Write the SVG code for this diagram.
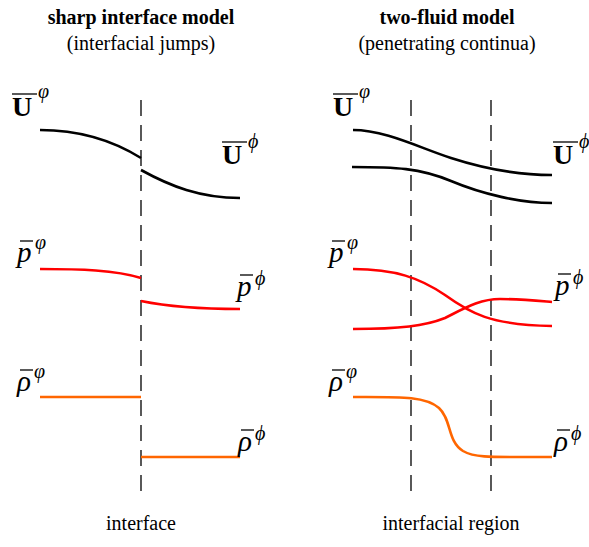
<svg xmlns="http://www.w3.org/2000/svg" width="589" height="547" viewBox="0 0 589 547">
<style>
text{font-family:"Liberation Serif","Times New Roman",serif;fill:#000}
.title{font-size:20px;font-weight:bold;text-anchor:middle}
.sub{font-size:20px;text-anchor:middle}
.cap{font-size:20px;text-anchor:middle}
.U{font-size:28px;font-weight:bold}
.it{font-size:29px;font-style:italic}
.sup{font-size:20px;font-style:italic}
.ov{stroke:#000;stroke-width:1.3}
.dash{stroke:#000;stroke-width:1.3;stroke-dasharray:16 9;fill:none}
.blk{stroke:#000;stroke-width:2.6;fill:none}
.red{stroke:#ff0000;stroke-width:2.6;fill:none}
.org{stroke:#ff6600;stroke-width:2.6;fill:none}
</style>
<g id="titles">
<text class="title" x="141" y="24">sharp interface model</text>
<text class="sub" x="141" y="50">(interfacial jumps)</text>
<text class="title" x="447" y="24">two-fluid model</text>
<text class="sub" x="447" y="50">(penetrating continua)</text>
</g>
<g id="connectors">
<line class="dash" x1="141" y1="100" x2="141" y2="497"/>
<line class="dash" x1="411" y1="100" x2="411" y2="497"/>
<line class="dash" x1="491" y1="100" x2="491" y2="497"/>
</g>
<g id="left-U">
<path class="blk" d="M40,130 C80,130 112,140 141,158"/>
<path class="blk" d="M141,170 C170,186 200,198 240,198"/>
<line class="ov" x1="12" y1="94" x2="37" y2="94"/>
<text class="U" x="12" y="116">U</text><text class="sup" x="38" y="98">φ</text>
<line class="ov" x1="222" y1="142" x2="247" y2="142"/>
<text class="U" x="222" y="164">U</text><text class="sup" x="248" y="148">ϕ</text>
</g>
<g id="left-p">
<path class="red" d="M40,269 C80,269 115,270 141,278"/>
<path class="red" d="M141,301 C170,307 200,309 240,309"/>
<line class="ov" x1="20" y1="241" x2="33" y2="241"/>
<text class="it" x="17" y="262">p</text><text class="sup" x="35" y="249">φ</text>
<line class="ov" x1="240" y1="275" x2="253" y2="275"/>
<text class="it" x="237" y="296">p</text><text class="sup" x="255" y="285">ϕ</text>
</g>
<g id="left-rho">
<path class="org" d="M40,397 L141,397"/>
<path class="org" d="M141,457 L240,457"/>
<line class="ov" x1="20" y1="370" x2="33" y2="370"/>
<text class="it" x="17" y="391">ρ</text><text class="sup" x="34" y="378">φ</text>
<line class="ov" x1="241" y1="430" x2="254" y2="430"/>
<text class="it" x="238" y="451">ρ</text><text class="sup" x="255" y="440">ϕ</text>
</g>
<g id="right-U">
<path class="blk" d="M353,130 C385,130 420,148 451,158 S515,175 552,175"/>
<path class="blk" d="M352,167 C395,167 420,168 451,181 S520,203 552,203"/>
<line class="ov" x1="333" y1="94" x2="358" y2="94"/>
<text class="U" x="333" y="116">U</text><text class="sup" x="359" y="98">φ</text>
<line class="ov" x1="553" y1="142" x2="578" y2="142"/>
<text class="U" x="553" y="164">U</text><text class="sup" x="579" y="148">ϕ</text>
</g>
<g id="right-p">
<path class="red" d="M353,269 C395,269 420,278 445,295 C470,313 490,325 552,326"/>
<path class="red" d="M353,329 C400,329 425,326 445,318 C465,308 480,299 500,299 C520,299 540,301 552,302"/>
<line class="ov" x1="332" y1="241" x2="345" y2="241"/>
<text class="it" x="329" y="262">p</text><text class="sup" x="347" y="249">φ</text>
<line class="ov" x1="558" y1="274" x2="571" y2="274"/>
<text class="it" x="555" y="295">p</text><text class="sup" x="573" y="284">ϕ</text>
</g>
<g id="right-rho">
<path class="org" d="M353,397 C400,397 425,396 439,408 C452,420 447,441 463,451 C475,458 490,457 552,457"/>
<line class="ov" x1="332" y1="370" x2="345" y2="370"/>
<text class="it" x="329" y="391">ρ</text><text class="sup" x="346" y="378">φ</text>
<line class="ov" x1="557" y1="430" x2="570" y2="430"/>
<text class="it" x="554" y="451">ρ</text><text class="sup" x="571" y="440">ϕ</text>
</g>
<g id="captions">
<text class="cap" x="141" y="530">interface</text>
<text class="cap" x="451" y="530">interfacial region</text>
</g>
</svg>
